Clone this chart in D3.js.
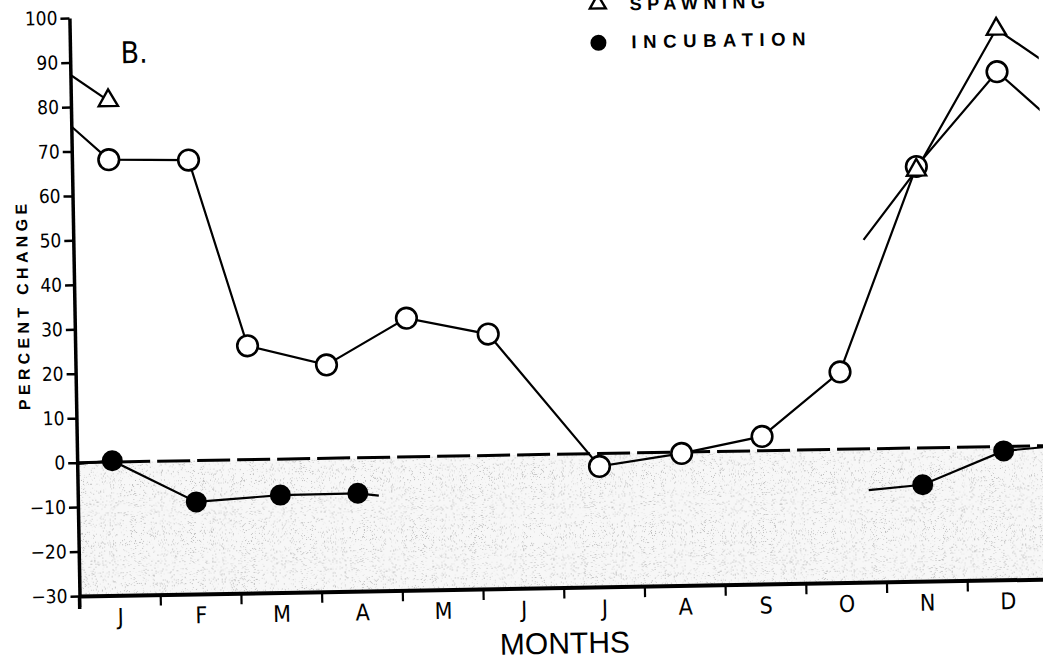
<!DOCTYPE html>
<html>
<head>
<meta charset="utf-8">
<script src="https://cdn.jsdelivr.net/npm/d3@7"></script>
<style>
  html, body { margin: 0; padding: 0; background: #fff; }
  svg { display: block; }
</style>
</head>
<body>
<div id="chart"></div>
<script>
// Month labels and y ticks
const months = ["J", "F", "M", "A", "M", "J", "J", "A", "S", "O", "N", "D"];
const yTicks = [-30, -20, -10, 0, 10, 20, 30, 40, 50, 60, 70, 80, 90, 100];

// Sampling dates as decimal months (0 = start of January) and percent change
const openDates  = [0.457, 1.445, 2.136, 3.11, 4.11, 5.12, 6.47, 7.49, 8.49, 9.47, 10.46, 11.48];
const openValues = [68.0, 67.6, 25.6, 21.0, 31.2, 27.3, -2.9, -0.3, 3.2, 17.4, 63.3, 84.3];

const spawningDates  = [0.463, 10.46, 11.48];
const spawningValues = [81.3, 62.5, 93.9];
const spawningLeadIn = [9.79, 47.0];          // line entering November

const incubationDates  = [0.435, 1.467, 2.51, 3.47, 10.47, 11.48];
const incubationValues = [0.3, -9.3, -8.1, -8.0, -8.3, -1.0];
const incubationTrail  = [3.73, -8.6];        // line leaving April
const incubationLeadIn = [9.80, -9.3];        // line entering November

const W = 1043, H = 660;
const svg = d3.select("#chart").append("svg").attr("width", W).attr("height", H);
const defs = svg.append("defs");

// stippled fill for the negative region: sparse grey specks
const f = defs.append("filter").attr("id", "stipple")
  .attr("x", 0).attr("y", 0).attr("width", 1).attr("height", 1);
f.append("feTurbulence").attr("type", "fractalNoise").attr("baseFrequency", 1.1)
  .attr("numOctaves", 2).attr("seed", 7).attr("result", "noise");
f.append("feColorMatrix").attr("in", "noise").attr("type", "matrix")
  .attr("values", "0 0 0 0 0.5  0 0 0 0 0.5  0 0 0 0 0.5  9 0 0 0 -5.6")
  .attr("result", "dots");
f.append("feComposite").attr("in", "dots").attr("in2", "SourceGraphic").attr("operator", "in");

// whole figure sits slightly tilted
const g = svg.append("g").attr("transform", "rotate(-1,79,596)");

const x = d3.scaleLinear().domain([0, 12]).range([79.5, 1048]);
const y = d3.scaleLinear().domain([-30, 100]).range([596, 18]);

defs.append("clipPath").attr("id", "plotClip").append("rect")
  .attr("x", x(0)).attr("y", -50).attr("width", x(12) - x(0)).attr("height", H + 100);

// shaded area below zero
g.append("rect").attr("x", x(0)).attr("y", y(0))
  .attr("width", x(12) - x(0)).attr("height", y(-30) - y(0)).attr("fill", "#f7f7f7");
g.append("rect").attr("x", x(0)).attr("y", y(0))
  .attr("width", x(12) - x(0)).attr("height", y(-30) - y(0)).attr("fill", "#000")
  .attr("filter", "url(#stipple)");

// dashed zero line
g.append("line").attr("x1", x(0)).attr("x2", x(12)).attr("y1", y(0)).attr("y2", y(0))
  .attr("stroke", "#000").attr("stroke-width", 3).attr("stroke-dasharray", "33,7");

// axes
const narrow = "'Liberation Sans Narrow', 'DejaVu Sans Condensed', 'Liberation Sans', sans-serif";
const yAxis = g.append("g").attr("transform", `translate(${x(0)},0)`)
  .call(d3.axisLeft(y).tickValues(yTicks).tickSize(9).tickSizeOuter(0).tickPadding(3));
yAxis.select(".domain").attr("stroke-width", 3.5);
yAxis.selectAll(".tick line").attr("stroke-width", 2.5);
yAxis.selectAll(".tick text").attr("font-family", narrow).attr("font-size", 19).attr("fill", "#000");
g.append("line").attr("x1", x(0)).attr("x2", x(0)).attr("y1", y(-30)).attr("y2", y(-30) + 13)
  .attr("stroke", "#000").attr("stroke-width", 3.5);

const xAxis = g.append("g").attr("transform", `translate(0,${y(-30)})`)
  .call(d3.axisBottom(x).tickValues(d3.range(0, 13)).tickSize(11).tickSizeOuter(0).tickFormat(""));
xAxis.select(".domain").attr("stroke-width", 4);
xAxis.selectAll(".tick line").attr("stroke-width", 2.2);

const xLabels = g.append("g").attr("transform", `translate(0,${y(-30)})`)
  .call(d3.axisBottom(x).tickValues(months.map((m, i) => i + 0.5)).tickSize(0)
    .tickPadding(13).tickFormat((d, i) => months[i]));
xLabels.select(".domain").remove();
xLabels.selectAll(".tick text").attr("font-family", narrow).attr("font-size", 23).attr("fill", "#000");

// series lines
const line = d3.line().x(d => x(d[0])).y(d => y(d[1]));
const pts = (dates, vals) => dates.map((d, i) => [d, vals[i]]);
const openPts = pts(openDates, openValues);
const spawnPts = pts(spawningDates, spawningValues);
const incPts = pts(incubationDates, incubationValues);
const wrapPrev = p => [p[0] - 12, p[1]];
const wrapNext = p => [p[0] + 12, p[1]];

const segments = [
  [wrapPrev(openPts[openPts.length - 1]), ...openPts, wrapNext(openPts[0])],
  [wrapPrev(spawnPts[2]), spawnPts[0]],
  [spawningLeadIn, spawnPts[1], spawnPts[2], wrapNext(spawnPts[0])],
  [wrapPrev(incPts[5]), ...incPts.slice(0, 4), incubationTrail],
  [incubationLeadIn, incPts[4], incPts[5], wrapNext(incPts[0])]
];
g.append("g").attr("clip-path", "url(#plotClip)")
  .selectAll("path").data(segments).join("path")
  .attr("d", line).attr("fill", "none").attr("stroke", "#000").attr("stroke-width", 2.2);

// markers
g.append("g").selectAll("circle").data(incPts).join("circle")
  .attr("cx", d => x(d[0])).attr("cy", d => y(d[1])).attr("r", 10.5).attr("fill", "#000");
g.append("g").selectAll("circle").data(openPts).join("circle")
  .attr("cx", d => x(d[0])).attr("cy", d => y(d[1])).attr("r", 10.3)
  .attr("fill", "#fff").attr("stroke", "#000").attr("stroke-width", 2.6);
const tri = d3.symbol(d3.symbolTriangle, 160);
g.append("g").selectAll("path").data(spawnPts).join("path")
  .attr("d", tri).attr("transform", d => `translate(${x(d[0])},${y(d[1])})`)
  .attr("fill", "#fff").attr("stroke", "#000").attr("stroke-width", 2.4);

// legend
g.append("path").attr("d", d3.symbol(d3.symbolTriangle, 110))
  .attr("transform", "translate(608,13)")
  .attr("fill", "#fff").attr("stroke", "#000").attr("stroke-width", 2.4);
g.append("text").attr("x", 640).attr("y", 20).text("SPAWNING")
  .attr("font-family", "'Liberation Sans', Arial, sans-serif").attr("font-weight", "bold")
  .attr("font-size", 18).attr("letter-spacing", 5.5);
g.append("circle").attr("cx", 608).attr("cy", 52).attr("r", 8).attr("fill", "#000");
g.append("text").attr("x", 641).attr("y", 58).text("INCUBATION")
  .attr("font-family", "'Liberation Sans', Arial, sans-serif").attr("font-weight", "bold")
  .attr("font-size", 18.5).attr("letter-spacing", 6.6);

// panel letter and axis titles
g.append("text").attr("x", 130).attr("y", 64).text("B.")
  .attr("font-family", narrow).attr("font-size", 30);
g.append("text").attr("x", 564).attr("y", 662).attr("text-anchor", "middle").text("MONTHS")
  .attr("font-family", "'Liberation Sans', Arial, sans-serif").attr("font-size", 30);
g.append("text").attr("transform", "translate(28,304) rotate(-90)")
  .attr("text-anchor", "middle").attr("dominant-baseline", "central")
  .text("PERCENT CHANGE")
  .attr("font-family", "'Liberation Sans', Arial, sans-serif").attr("font-weight", "bold")
  .attr("font-size", 16).attr("letter-spacing", 4.3);
</script>
</body>
</html>
